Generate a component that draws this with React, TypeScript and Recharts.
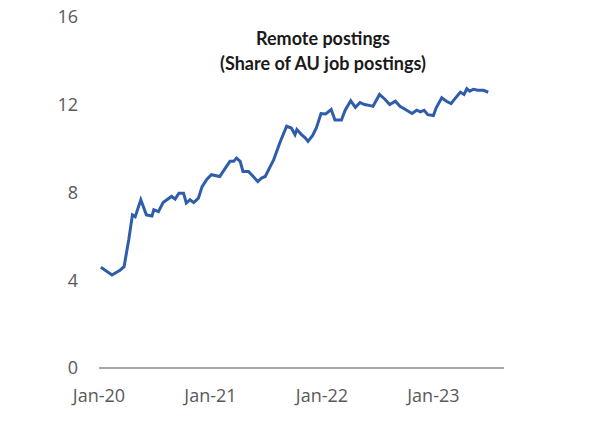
import React from "react";
import { LineChart, Line, XAxis, YAxis } from "recharts";

// months since Jan 2020
const monthsSinceJan20 = [
  0.2, 1.4, 2.3, 2.7, 3.2, 3.6, 3.9, 4.5, 5.1, 5.7, 5.9, 6.4, 6.9, 7.8, 8.2, 8.6, 9.1, 9.4, 9.8, 10.2,
  10.7, 11.1, 11.6, 12.1, 13.0, 13.6, 14.1, 14.5, 14.8, 15.2, 15.5, 16.1, 16.6, 17.1, 17.5, 17.9, 18.4,
  18.8, 19.5, 20.2, 20.7, 21.1, 21.3, 21.8, 22.2, 22.5, 23.0, 23.4, 23.9, 24.4, 25.0, 25.4, 26.1, 26.5,
  27.1, 27.6, 28.1, 28.6, 29.2, 29.5, 30.2, 30.8, 31.3, 31.9, 32.4, 32.9, 33.7, 34.2, 34.6, 35.0, 35.4,
  36.0, 36.3, 36.9, 37.4, 37.9, 38.3, 38.9, 39.3, 39.6, 39.9, 40.3, 40.8, 41.4, 41.9,
];

// remote postings, share of AU job postings (%)
const remoteShare = [
  4.59, 4.24, 4.47, 4.62, 5.84, 6.98, 6.9, 7.67, 6.98, 6.93, 7.21, 7.13, 7.54, 7.82, 7.7, 7.97, 7.97, 7.52,
  7.67, 7.54, 7.74, 8.27, 8.6, 8.81, 8.73, 9.11, 9.42, 9.42, 9.57, 9.42, 8.96, 8.96, 8.73, 8.5, 8.66, 8.73,
  9.16, 9.49, 10.3, 11.02, 10.94, 10.64, 10.87, 10.64, 10.49, 10.33, 10.6, 10.94, 11.6, 11.58, 11.78, 11.3,
  11.3, 11.75, 12.18, 11.88, 12.1, 12.01, 11.96, 11.93, 12.47, 12.24, 12.01, 12.16, 11.93, 11.81, 11.6,
  11.75, 11.68, 11.75, 11.55, 11.51, 11.86, 12.32, 12.16, 12.05, 12.27, 12.57, 12.47, 12.73, 12.62, 12.7,
  12.66, 12.66, 12.57,
];

const xTickMonths = [0, 12, 24, 36];
const xTickLabels = ["Jan-20", "Jan-21", "Jan-22", "Jan-23"];
const yTicks = [0, 4, 8, 12, 16];
const titleLines = ["Remote postings", "(Share of AU job postings)"];

const data = monthsSinceJan20.map((m, i) => ({ m, share: remoteShare[i] }));

const tickStyle = { fill: "#595959", fontSize: 18, fontFamily: "'Open Sans', sans-serif" };

export default function App() {
  return (
    <div style={{ position: "relative", width: 590, height: 417, marginTop: -8 }}>
      <LineChart
        width={590}
        height={417}
        data={data}
        margin={{ top: 17, right: 94, bottom: 9, left: 31 }}
      >
        <XAxis
          type="number"
          dataKey="m"
          domain={[0, 43.6]}
          ticks={xTickMonths}
          tickFormatter={(v: number) => xTickLabels[xTickMonths.indexOf(v)] ?? ""}
          axisLine={{ stroke: "#8c8c8c", strokeWidth: 1.5 }}
          tickLine={false}
          tickSize={0}
          tickMargin={21}
          height={40}
          tick={tickStyle}
          interval={0}
        />
        <YAxis
          type="number"
          domain={[0, 16]}
          ticks={yTicks}
          axisLine={false}
          tickLine={false}
          tickSize={0}
          tickMargin={21}
          width={60}
          tick={tickStyle}
          interval={0}
        />
        <Line
          type="linear"
          dataKey="share"
          stroke="#2F5DAA"
          strokeWidth={3}
          dot={false}
          isAnimationActive={false}
        />
      </LineChart>
      <div
        style={{
          position: "absolute",
          left: 165,
          top: 25.5,
          width: 300,
          textAlign: "center",
          fontFamily: "Lato, sans-serif",
          fontWeight: 700,
          fontSize: 18,
          lineHeight: "25px",
          color: "#1a1a1a",
        }}
      >
        {titleLines.map((t) => (
          <div key={t}>{t}</div>
        ))}
      </div>
    </div>
  );
}
